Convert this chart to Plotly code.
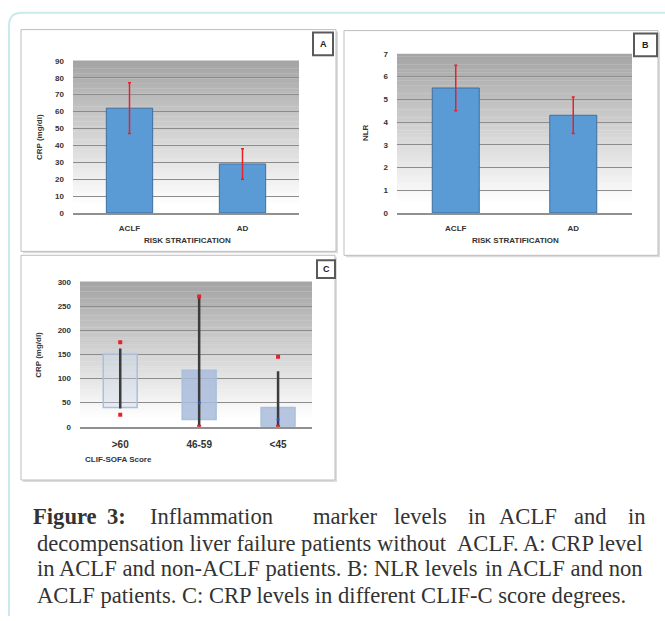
import plotly.graph_objects as go

W, H = 665, 621

# ---------------- data ----------------
risk_cats = ["ACLF", "AD"]
crp_mean = [62, 29]
crp_err = [15, 9]
nlr_mean = [5.5, 4.3]
nlr_err = [1.0, 0.8]

clif_cats = [">60", "46-59", "<45"]
box_low = [40, 15, 0]
box_high = [150, 117, 40]
line_low = [38, 0, 0]
line_high = [162, 270, 115]
red_high = [175, 270, 145]
red_low = [25, 0, 0]
median_pt = [None, 50, 15]

crp_ticks = list(range(0, 91, 10))
nlr_ticks = list(range(0, 8))
clif_ticks = list(range(0, 301, 50))


def px(x):
    return x / W


def py(y):
    return 1 - y / H


fig = go.Figure()

bar_color = "#5b9bd5"
bar_line = "#3f6f9f"

# Panel A
fig.add_trace(go.Bar(
    x=risk_cats, y=crp_mean, xaxis="x", yaxis="y", width=0.41,
    marker=dict(color=bar_color, line=dict(color=bar_line, width=1)),
    error_y=dict(type="data", array=crp_err, color="#e8202a", thickness=1.5, width=1.5),
    showlegend=False))
# Panel B
fig.add_trace(go.Bar(
    x=risk_cats, y=nlr_mean, xaxis="x2", yaxis="y2", width=0.40,
    marker=dict(color=bar_color, line=dict(color=bar_line, width=1)),
    error_y=dict(type="data", array=nlr_err, color="#e8202a", thickness=1.5, width=1.5),
    showlegend=False))

# Panel C boxes
box_h = [h - l for h, l in zip(box_high, box_low)]
fig.add_trace(go.Bar(
    x=clif_cats, y=box_h, base=box_low, xaxis="x3", yaxis="y3", width=0.43,
    marker=dict(color=["rgba(200,212,232,0.35)", "rgba(170,188,218,0.85)", "rgba(170,188,218,0.85)"],
                line=dict(color="#a9bfdc", width=1.5)),
    showlegend=False))
# whisker lines
for c, lo, hi in zip(clif_cats, line_low, line_high):
    fig.add_trace(go.Scatter(
        x=[c, c], y=[lo, hi], xaxis="x3", yaxis="y3", mode="lines",
        line=dict(color="#3c3c3c", width=2.5), showlegend=False))
fig.add_trace(go.Scatter(
    x=clif_cats + clif_cats, y=red_high + red_low, xaxis="x3", yaxis="y3",
    mode="markers", marker=dict(color="#e8202a", size=4, symbol="square"), showlegend=False))
fig.add_trace(go.Scatter(
    x=clif_cats, y=median_pt, xaxis="x3", yaxis="y3",
    mode="markers", marker=dict(color="#3050c0", size=3), showlegend=False))

tickfont = dict(family="Arial", size=8, color="#333333", weight="bold")
grid = "#8c8c8c"

def yax(dom, rng, ticks):
    return dict(domain=dom, range=rng, tickvals=ticks, showgrid=True, gridcolor=grid,
                gridwidth=1, zeroline=False, showline=False, tickfont=tickfont,
                ticklabelstandoff=8, fixedrange=True)

def xax(dom, anchor, rng, fsize=8):
    return dict(domain=dom, anchor=anchor, range=rng, showgrid=False, showline=True,
                linecolor="#909090", linewidth=1.5, ticks="", zeroline=False,
                tickfont=dict(family="Arial", size=fsize, color="#333333", weight="bold"),
                ticklabelstandoff=7, fixedrange=True)

layout = dict(
    width=W, height=H, margin=dict(l=0, r=0, t=0, b=0),
    paper_bgcolor="white", plot_bgcolor="white",
    bargap=0.5,
    xaxis=xax([px(73), px(299)], "y", [-0.5, 1.5]),
    yaxis=yax([py(212), py(57.7)], [0, 90], crp_ticks),
    xaxis2=xax([px(397), px(632)], "y2", [-0.5, 1.5]),
    yaxis2=yax([py(212), py(50.7)], [0, 7], nlr_ticks),
    xaxis3=xax([px(80), px(312)], "y3", [-0.51, 2.43], fsize=10),
    yaxis3=yax([py(429), py(282)], [0, 300], clif_ticks),
)
layout["yaxis"]["anchor"] = "x"
layout["yaxis2"]["anchor"] = "x2"
layout["yaxis3"]["anchor"] = "x3"
fig.update_layout(**layout)

shapes = []
# page border (light cyan, rounded corner)
shapes.append(dict(type="path", xref="paper", yref="paper",
                   path=f"M {px(9)} {py(621)} L {px(9)} {py(22)} Q {px(9)} {py(9)} {px(22)} {py(9)} L {px(665)} {py(9)}",
                   line=dict(color="#c9ebf0", width=2), layer="below"))

# panel frames with shadow
frames = [(21, 26, 336, 251), (344, 27, 658, 255), (21, 255, 335, 483)]
for x0, y0, x1, y1 in frames:
    shapes.append(dict(type="rect", xref="paper", yref="paper",
                       x0=px(x0 + 2), x1=px(x1 + 2), y0=py(y1 + 2), y1=py(y0 + 2),
                       fillcolor="#dcdcdc", line=dict(width=0), layer="below"))
    shapes.append(dict(type="rect", xref="paper", yref="paper",
                       x0=px(x0), x1=px(x1), y0=py(y1), y1=py(y0),
                       fillcolor="white", line=dict(color="#bdbdbd", width=1), layer="below"))

# gradient plot backgrounds
N = 60
for ax in ["x", "x2", "x3"]:
    yref = "y" + ax[1:]
    for i in range(N):
        f = i / N  # 0 bottom -> 1 top
        v = int(round(255 - 92 * min(1.0, max(0.0, (f - 0.05) / 0.95))))
        shapes.append(dict(type="rect", xref=f"{ax} domain", yref=f"{yref} domain",
                           x0=0, x1=1, y0=i / N, y1=(i + 1) / N + 0.002,
                           fillcolor=f"rgb({v},{v},{v})", line=dict(width=0), layer="below"))

# label boxes
lab_boxes = [("A", 313, 29, 333, 52), ("B", 634, 30, 657, 53), ("C", 317, 260, 335, 278)]
annotations = []
for t, x0, y0, x1, y1 in lab_boxes:
    shapes.append(dict(type="rect", xref="paper", yref="paper",
                       x0=px(x0), x1=px(x1), y0=py(y1), y1=py(y0),
                       fillcolor="white", line=dict(color="#5a5a5a", width=2), layer="above"))
    annotations.append(dict(text=t, xref="paper", yref="paper", x=px((x0 + x1) / 2), y=py((y0 + y1) / 2),
                            showarrow=False, xanchor="center", yanchor="middle",
                            font=dict(family="Arial", size=9, color="#222222", weight="bold")))

small = dict(family="Arial", size=8, color="#333333", weight="bold")
# axis titles
annotations += [
    dict(text="CRP (mg/dl)", x=px(39), y=py(135), textangle=-90, font=small),
    dict(text="NLR", x=px(365), y=py(131), textangle=-90, font=small),
    dict(text="CRP (mg/dl)", x=px(39), y=py(356), textangle=-90, font=small),
    dict(text="RISK STRATIFICATION", x=px(187), y=py(240), font=small),
    dict(text="RISK STRATIFICATION", x=px(515), y=py(240), font=small),
    dict(text="CLIF-SOFA Score", x=px(83), y=py(462), xanchor="left", font=small),
]
for a in annotations[-6:]:
    a.update(xref="paper", yref="paper", showarrow=False)
    a.setdefault("xanchor", "center")
    a["yanchor"] = "middle"

# caption
cap_font = dict(family="Liberation Serif", size=22.6, color="#333333")
line1 = [("<b>Figure</b>", 65), ("<b>3:</b>", 116.5), ("Inflammation", 211.5), ("marker", 345),
         ("levels", 421), ("in", 477), ("ACLF", 527.5), ("and", 590.5), ("in", 636.5)]
for t, cx in line1:
    annotations.append(dict(text=t, xref="paper", yref="paper", x=px(cx), y=py(520),
                            showarrow=False, xanchor="center", yanchor="middle", font=cap_font))
# justified lines: left part anchored left, right part anchored right
just_lines = [("decompensation liver failure patients without", "ACLF. A: CRP level", 547),
              ("in ACLF and non-ACLF patients. B: NLR levels", "in ACLF and non", 573)]
for left, right, cy in just_lines:
    annotations.append(dict(text=left, xref="paper", yref="paper", x=px(35), y=py(cy),
                            showarrow=False, xanchor="left", yanchor="middle", font=cap_font))
    annotations.append(dict(text=right, xref="paper", yref="paper", x=px(645), y=py(cy),
                            showarrow=False, xanchor="right", yanchor="middle", font=cap_font))
annotations.append(dict(text="ACLF patients. C: CRP levels in different CLIF-C score degrees.",
                        xref="paper", yref="paper", x=px(35), y=py(600),
                        showarrow=False, xanchor="left", yanchor="middle", font=cap_font))

fig.update_layout(shapes=shapes, annotations=annotations)
fig.write_html("out.html", config={"displayModeBar": False},
               post_script="document.body.style.margin='0';document.body.style.overflow='hidden';")
